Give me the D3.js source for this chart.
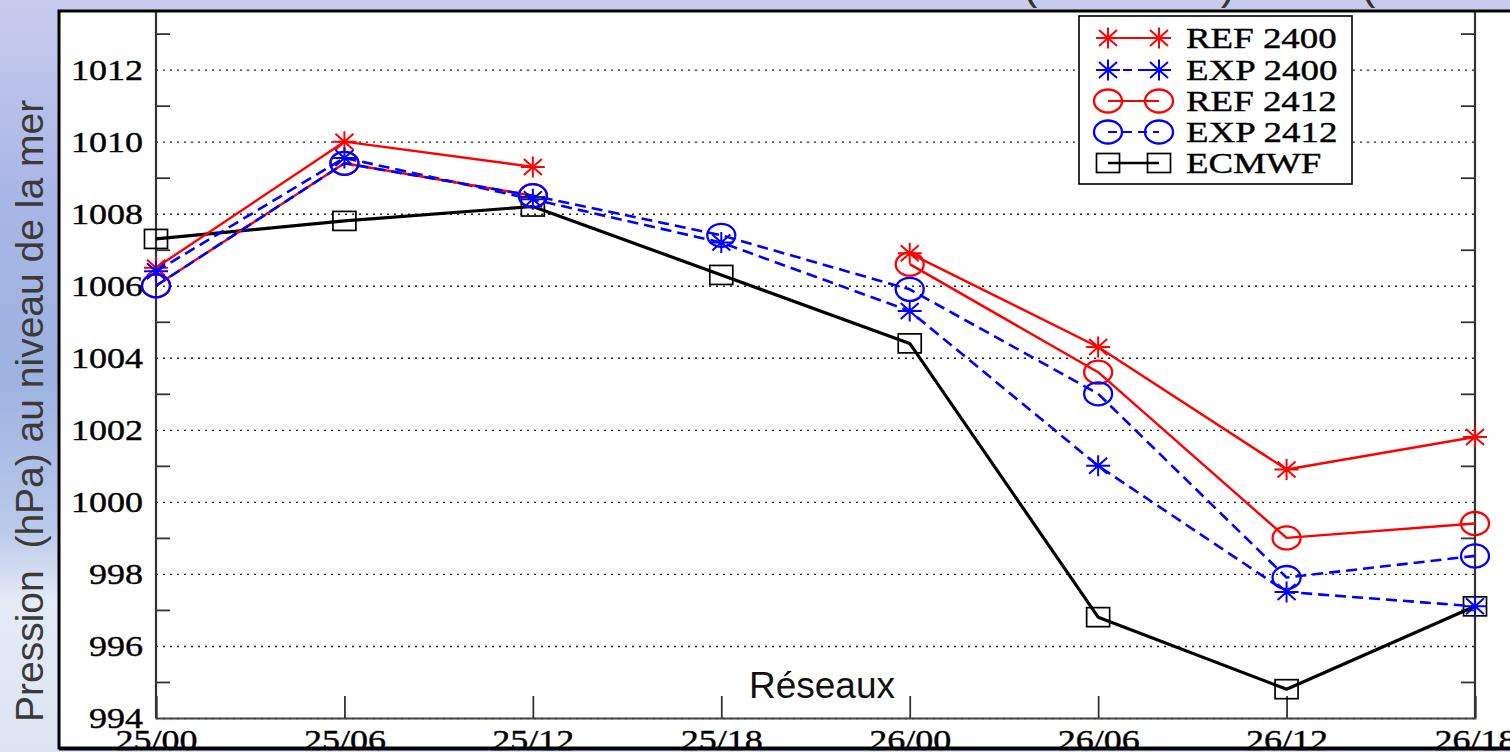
<!DOCTYPE html>
<html>
<head>
<meta charset="utf-8">
<script src="https://cdn.jsdelivr.net/npm/d3@7"></script>
<style>
  body { margin: 0; overflow: hidden; background: #fff; }
  text { white-space: pre; }
</style>
</head>
<body>
<svg id="chart" width="1510" height="752"></svg>
<script>
// data
var categories = ["25/00", "25/06", "25/12", "25/18", "26/00", "26/06", "26/12", "26/18"];
var ref2400 = [1006.5, 1010.0, 1009.3, null, 1006.9, 1004.3, 1000.9, 1001.8];
var exp2400 = [1006.4, 1009.55, 1008.4, 1007.2, 1005.3, 1001.0, 997.5, 997.1];
var ref2412 = [1006.0, 1009.4, 1008.5, null, 1006.6, 1003.6, 999.0, 999.4];
var exp2412 = [1006.0, 1009.4, 1008.5, 1007.4, 1005.9, 1003.0, 997.9, 998.5];
var ecmwf   = [1007.3, 1007.8, 1008.2, 1006.3, 1004.4, 996.8, 994.8, 997.1];
var seriesNames = ["REF 2400", "EXP 2400", "REF 2412", "EXP 2412", "ECMWF"];
var majorTicks = [994, 996, 998, 1000, 1002, 1004, 1006, 1008, 1010, 1012];
var minorTicks = [995, 997, 999, 1001, 1003, 1005, 1007, 1009, 1011, 1013];
var yTitle = "Pression  (hPa) au niveau de la mer";
var xTitle = "Réseaux";

var svg = d3.select("#chart");
var serif = "'Liberation Serif', 'DejaVu Serif', serif";
var sans = "'Liberation Sans', Arial, sans-serif";

var plot = { left: 156, right: 1475, top: 12, bottom: 718 };

var x = d3.scalePoint().domain(categories).range([plot.left, plot.right]);
var y = d3.scaleLinear().domain([994, 1013.6]).range([plot.bottom, plot.top]);

// series styles
var series = [
  { name: seriesNames[0], values: ref2400, color: "#ff0000", dash: null, width: 2.4, marker: "star" },
  { name: seriesNames[1], values: exp2400, color: "#0000ff", dash: "11,6", width: 2.6, marker: "star" },
  { name: seriesNames[2], values: ref2412, color: "#ff0000", dash: null, width: 2.4, marker: "circle" },
  { name: seriesNames[3], values: exp2412, color: "#0000ff", dash: "11,6", width: 2.6, marker: "circle" },
  { name: seriesNames[4], values: ecmwf, color: "#000000", dash: null, width: 3.2, marker: "square" }
];

// stretch serif text a bit wider, like the original
function stretch(sel, k) {
  sel.each(function () {
    var w = this.getComputedTextLength();
    d3.select(this).attr("textLength", w * k).attr("lengthAdjust", "spacingAndGlyphs");
  });
}

// background (sky)
var defs = svg.append("defs");
var grad = defs.append("linearGradient").attr("id", "sky")
  .attr("x1", 0).attr("y1", 0).attr("x2", 0).attr("y2", 1);
[["0%", "#c8ccee"], ["25%", "#aab6e6"], ["50%", "#9db2e0"], ["70%", "#b9c8ea"],
 ["80%", "#e4eaf6"], ["100%", "#dce4f3"]].forEach(function (s) {
  grad.append("stop").attr("offset", s[0]).attr("stop-color", s[1]);
});
svg.append("rect").attr("width", 1510).attr("height", 752).attr("fill", "url(#sky)");

// cut off title above the frame
svg.append("g").selectAll("text")
  .data([["(", 1030], [")", 1228], ["(", 1368]])
  .enter().append("text")
  .attr("x", function (d) { return d[1]; })
  .attr("y", -1)
  .attr("font-family", sans).attr("font-size", 44).attr("fill", "#333")
  .attr("text-anchor", "middle")
  .text(function (d) { return d[0]; });

// white frame
svg.append("rect")
  .attr("x", 59).attr("y", 11).attr("width", 1470).attr("height", 737)
  .attr("fill", "#fff").attr("stroke", "#000").attr("stroke-width", 3);

// grid lines
var grid = svg.append("g").attr("transform", "translate(" + plot.left + ",0)")
  .call(d3.axisLeft(y).tickValues(majorTicks).tickSize(-(plot.right - plot.left)).tickFormat(""));
grid.select(".domain").remove();
grid.selectAll("line").attr("stroke", "#222").attr("stroke-width", 1.4).attr("stroke-dasharray", "2,5");

// minor ticks left and right
var ml = svg.append("g").attr("transform", "translate(" + plot.left + ",0)")
  .call(d3.axisLeft(y).tickValues(minorTicks).tickSize(-14).tickFormat(""));
var mr = svg.append("g").attr("transform", "translate(" + plot.right + ",0)")
  .call(d3.axisRight(y).tickValues(minorTicks).tickSize(-14).tickFormat(""));
[ml, mr].forEach(function (g) {
  g.select(".domain").remove();
  g.selectAll("line").attr("stroke", "#333").attr("stroke-width", 1.8);
});

// y labels
var yl = svg.append("g").attr("transform", "translate(" + plot.left + ",0)")
  .call(d3.axisLeft(y).tickValues(majorTicks).tickSize(0).tickPadding(13).tickFormat(d3.format("d")));
yl.select(".domain").remove();
yl.selectAll("text").attr("font-family", serif).attr("font-size", 30).attr("fill", "#000")
  .attr("stroke", "#000").attr("stroke-width", 0.4).attr("dy", "0.33em");
stretch(yl.selectAll("text"), 1.2);

// x axis
var xa = svg.append("g").attr("transform", "translate(0," + plot.bottom + ")")
  .call(d3.axisBottom(x).tickSize(-22).tickPadding(11));
xa.select(".domain").attr("stroke", "#444").attr("stroke-width", 2);
xa.selectAll("line").attr("stroke", "#333").attr("stroke-width", 1.8);
xa.selectAll("text").attr("font-family", serif).attr("font-size", 30).attr("fill", "#000")
  .attr("stroke", "#000").attr("stroke-width", 0.4);
stretch(xa.selectAll("text"), 1.2);

// left and right axis lines
svg.append("line").attr("x1", plot.left).attr("x2", plot.left).attr("y1", plot.top).attr("y2", plot.bottom)
  .attr("stroke", "#333").attr("stroke-width", 2.2);
svg.append("line").attr("x1", plot.right).attr("x2", plot.right).attr("y1", plot.top).attr("y2", plot.bottom)
  .attr("stroke", "#333").attr("stroke-width", 2.2);

// markers
function drawMarker(g, type, cx, cy, color) {
  if (type == "star") {
    var a = 12, b = 10.5, c = 9, e = 8;
    g.append("path")
      .attr("d", "M" + (cx - a) + "," + cy + "H" + (cx + a) +
                 "M" + cx + "," + (cy - b) + "V" + (cy + b) +
                 "M" + (cx - c) + "," + (cy - e) + "L" + (cx + c) + "," + (cy + e) +
                 "M" + (cx - c) + "," + (cy + e) + "L" + (cx + c) + "," + (cy - e))
      .attr("stroke", color).attr("stroke-width", 2).attr("fill", "none");
  } else if (type == "circle") {
    g.append("ellipse").attr("cx", cx).attr("cy", cy).attr("rx", 14).attr("ry", 11.5)
      .attr("stroke", color).attr("stroke-width", 2.3).attr("fill", "none");
  } else {
    g.append("rect").attr("x", cx - 11.5).attr("y", cy - 9.5).attr("width", 23).attr("height", 19)
      .attr("stroke", color).attr("stroke-width", 1.7).attr("fill", "none");
  }
}

var line = d3.line()
  .defined(function (d) { return d.v != null; })
  .x(function (d) { return x(d.c); })
  .y(function (d) { return y(d.v); });

var order = [4, 0, 1, 2, 3];
order.forEach(function (i) {
  var s = series[i];
  var pts = categories.map(function (c, k) { return { c: c, v: s.values[k] }; });
  var g = svg.append("g").attr("class", "series");
  g.append("path").datum(pts).attr("d", line)
    .attr("fill", "none").attr("stroke", s.color).attr("stroke-width", s.width)
    .attr("stroke-dasharray", s.dash).attr("stroke-linejoin", "round");
  pts.filter(function (d) { return d.v != null; }).forEach(function (d) {
    drawMarker(g, s.marker, x(d.c), y(d.v), s.color);
  });
});

// axis titles
svg.append("text")
  .attr("transform", "translate(43,722) rotate(-90)")
  .attr("font-family", sans).attr("font-size", 39).attr("fill", "#3a3a3a")
  .text(yTitle);
svg.append("text")
  .attr("x", 822).attr("y", 698).attr("text-anchor", "middle")
  .attr("font-family", sans).attr("font-size", 37).attr("fill", "#111")
  .text(xTitle);

// legend
var legend = svg.append("g").attr("class", "legend");
legend.append("rect").attr("x", 1079).attr("y", 16).attr("width", 273).attr("height", 168)
  .attr("fill", "#fff").attr("stroke", "#000").attr("stroke-width", 1.6);
var rowY = [38, 70, 101, 132, 163];
series.forEach(function (s, i) {
  var gy = rowY[i];
  var g = legend.append("g");
  g.append("line").attr("x1", 1108).attr("x2", 1159).attr("y1", gy).attr("y2", gy)
    .attr("stroke", s.color).attr("stroke-width", s.marker == "square" ? 2.6 : 1.8)
    .attr("stroke-dasharray", s.dash ? "9,6" : null);
  drawMarker(g, s.marker, 1108, gy, s.color);
  drawMarker(g, s.marker, 1159, gy, s.color);
  var t = g.append("text").attr("x", 1186).attr("y", gy + 10)
    .attr("font-family", serif).attr("font-size", 30).attr("fill", "#000")
    .attr("stroke", "#000").attr("stroke-width", 0.4)
    .text(s.name);
  stretch(t, 1.23);
});

// frame bottom edge drawn over the cut tick labels
svg.append("line").attr("x1", 59).attr("x2", 1510).attr("y1", 749).attr("y2", 749)
  .attr("stroke", "#000").attr("stroke-width", 3);
</script>
</body>
</html>
